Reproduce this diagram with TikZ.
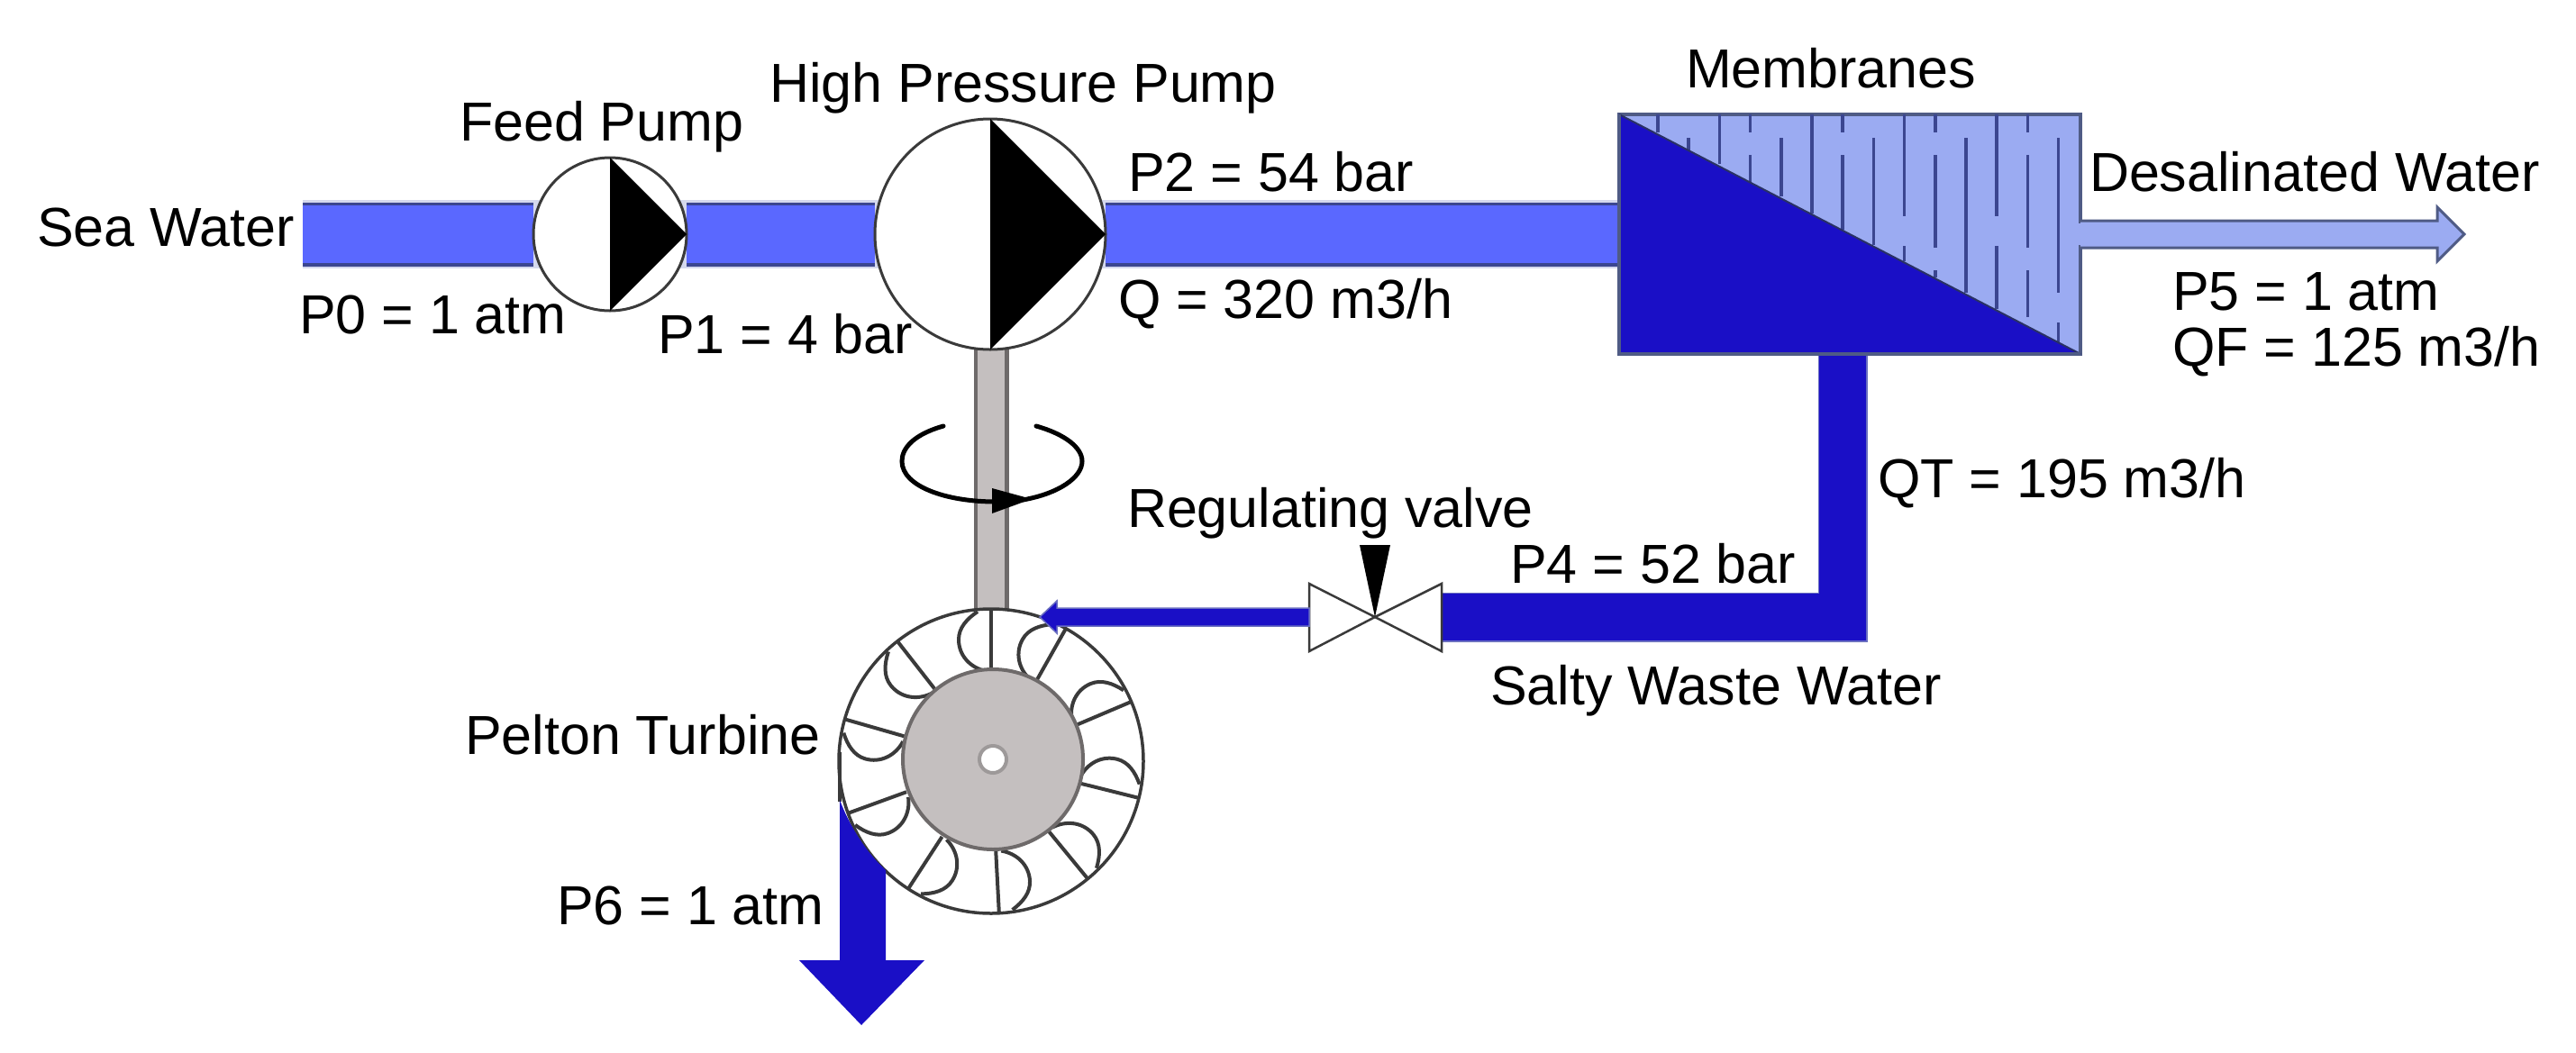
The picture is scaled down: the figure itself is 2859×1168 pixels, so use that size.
\documentclass[tikz,border=0pt]{standalone}
\usepackage{fontspec}
\setmainfont{Liberation Sans}
\usetikzlibrary{backgrounds}
\definecolor{seablue}{HTML}{5A68FF}
\definecolor{seaedge}{HTML}{3B4690}
\definecolor{seahalo}{HTML}{D5D9EE}
\definecolor{deepblue}{HTML}{1A0FC6}
\definecolor{deepedge}{HTML}{6A6FC0}
\definecolor{lightblue}{HTML}{9BABF2}
\definecolor{lightedge}{HTML}{4F5B85}
\definecolor{steel}{HTML}{C4BFBF}
\definecolor{steeledge}{HTML}{6E6A6A}
\definecolor{outline}{HTML}{3A3A3A}
\tikzset{
  lbl/.style={anchor=base west,inner sep=0pt,outer sep=0pt,font=\fontsize{61}{70}\selectfont,text=black},
  pumpnode/.style={circle,draw=outline,line width=3pt,fill=white,inner sep=0pt,outer sep=0pt,minimum size=#1},
  seahaloline/.style={draw=seahalo,line width=76pt},
  seapipe/.style={draw=seaedge,line width=3.5pt,double=seablue,double distance=64pt},
  wastepipe/.style={draw=deepedge,line width=1.5pt,double=deepblue,double distance=52pt},
  shaftline/.style={draw=steeledge,line width=4.5pt,double=steel,double distance=30pt},
  memline/.style={draw=seaedge,line width=3.5pt},
  wheelline/.style={draw=outline,line width=4pt},
  valvepart/.style={draw=outline,line width=2.5pt,fill=white,line join=miter},
  rotline/.style={draw=black,line width=5pt,line cap=round}
}
\begin{document}
\begin{tikzpicture}[x=1pt,y=-1pt]
\useasboundingbox (0,0) rectangle (2859,1168);
% anchors
\coordinate (inlet) at (336,260);
\coordinate (valveC) at (1526,685);
\coordinate (valveL) at (1453,685);
\coordinate (valveR) at (1600,685);
\coordinate (wasteTop) at (2045,393);
% pumps
\node[pumpnode=170pt] (feed) at (677,260) {};
\node[pumpnode=256pt] (hp) at (1099,260) {};
\fill[black] (feed.north) -- (feed.east) -- (feed.south) -- cycle;
\fill[black] (hp.north) -- (hp.east) -- (hp.south) -- cycle;
% membrane
\node[draw=lightedge,line width=3.5pt,fill=lightblue,inner sep=0pt,outer sep=0pt,minimum width=512pt,minimum height=266pt] (mem) at (2053,260) {};
\foreach \k/\a/\b in {0/127/147,1/153/167,2/127/182,3/127/147,3/172/202,4/153/218,5/127/237,6/127/147,6/172/255,7/153/272,8/127/240,8/273/290,9/127/147,9/172/275,9/300/308,10/153/325,11/127/240,11/273/343,12/127/147,12/172/275,12/300/352,13/153/325,13/358/380}
  \draw[memline] ({1840+34.2*\k},\a) -- ({1840+34.2*\k},\b);
\fill[deepblue] (mem.north west) -- (mem.south east) -- (mem.south west) -- cycle;
\draw[draw=seaedge!70!black,line width=2pt] (mem.north west) -- (mem.south east);
\draw[draw=lightedge,line width=3.5pt] (mem.north west) -- (mem.south west) -- (mem.south east);
% desalinated outlet
\coordinate (desalBase) at (2311,245);
\filldraw[fill=lightblue,draw=lightedge,line width=3pt,line join=miter]
  (mem.east |- desalBase) -- (2705,245) -- (2705,230) -- (2735,260) -- (2705,290) -- (2705,275) -- (mem.east |- 0,275);
\fill[lightblue] (2300,248) rectangle (2313,272);
% wheel
\node[circle,draw=outline,line width=3.5pt,fill=white,inner sep=0pt,outer sep=0pt,minimum size=338pt] (wheel) at (1100,845) {};
\draw[wheelline] (932,835) -- (932,890);
\foreach \t in {90,60.6,23,-14,-50.6,-87,-123,-160,164,128}{
  \begin{scope}[shift={(wheel.center)},rotate=\t]
    \draw[wheelline] (100,0) -- (168,0);
    \draw[wheelline] (166,-15) .. controls (158,-27) and (148,-36) .. (135,-36)
       .. controls (118,-36) and (104,-24) .. (100,-6);
  \end{scope}
}
\node[circle,draw=steeledge,line width=4pt,fill=steel,inner sep=0pt,outer sep=0pt,minimum size=200pt] (hub) at (1102,843) {};
\node[circle,draw=steel!80!black,line width=4pt,fill=white,inner sep=0pt,outer sep=0pt,minimum size=30pt] (hole) at (hub.center) {};
% valve
\filldraw[valvepart] (valveC) -- (1453,648) -- (1453,723) -- cycle;
\filldraw[valvepart] (valveC) -- (1600,648) -- (1600,723) -- cycle;
\fill[black] (valveC) -- (1509,605) -- (1543,605) -- cycle;
% small arrow into the turbine
\filldraw[fill=deepblue,draw=deepedge,line width=1.5pt]
  (valveL |- 0,675) -- (1173,675) -- (1173,667) -- (1154,685) -- (1173,703) -- (1173,695) -- (valveL |- 0,695) -- cycle;
% turbine outlet
\fill[deepblue] (932,888) .. controls (942,915) and (960,945) .. (983,966) -- (983,1066) -- (1026,1066) -- (956,1138) -- (887,1066) -- (932,1066) -- cycle;
% rotation symbol
\draw[rotline] (1047,473) .. controls (1015,482) and (1001,497) .. (1001,512) .. controls (1001,540) and (1050,557) .. (1105,557);
\draw[rotline] (1150,473) .. controls (1182,482) and (1201,497) .. (1201,512) .. controls (1201,530) and (1175,548) .. (1135,555);
\fill[black] (1101,542) -- (1145,554) -- (1101,570) -- cycle;
% pipes behind everything
\begin{scope}[on background layer]
  \draw[seahaloline] (inlet) -- (mem);
  \draw[seapipe] (inlet) -- (feed);
  \draw[seapipe] (feed) -- (hp);
  \draw[seapipe] (hp) -- (mem);
  \draw[wastepipe] (wasteTop) |- (valveR);
  \draw[shaftline] (hp.south) ++(1,0) -- ++(0,290);
\end{scope}
% labels
\node[lbl] (lSea) at (41,273) {Sea Water};
\node[lbl] (lFeed) at (510,156) {Feed Pump};
\node[lbl] (lHigh) at (854,113) {High Pressure Pump};
\node[lbl] (lP0) at (332,370) {P0 = 1 atm};
\node[lbl] (lP1) at (730,392) {P1 = 4 bar};
\node[lbl] (lP2) at (1252,212) {P2 = 54 bar};
\node[lbl] (lQ) at (1241,353) {Q = 320 m3/h};
\node[lbl] (lMem) at (1871,97) {Membranes};
\node[lbl] (lDes) at (2319,212) {Desalinated Water};
\node[lbl] (lP5) at (2411,344) {P5 = 1 atm};
\node[lbl] (lQF) at (2411,406) {QF = 125 m3/h};
\node[lbl] (lQT) at (2084,552) {QT = 195 m3/h};
\node[lbl] (lReg) at (1251,585) {Regulating valve};
\node[lbl] (lP4) at (1676,647) {P4 = 52 bar};
\node[lbl] (lSalty) at (1654,782) {Salty Waste Water};
\node[lbl] (lPel) at (516,837) {Pelton Turbine};
\node[lbl] (lP6) at (618,1026) {P6 = 1 atm};
\end{tikzpicture}
\end{document}
